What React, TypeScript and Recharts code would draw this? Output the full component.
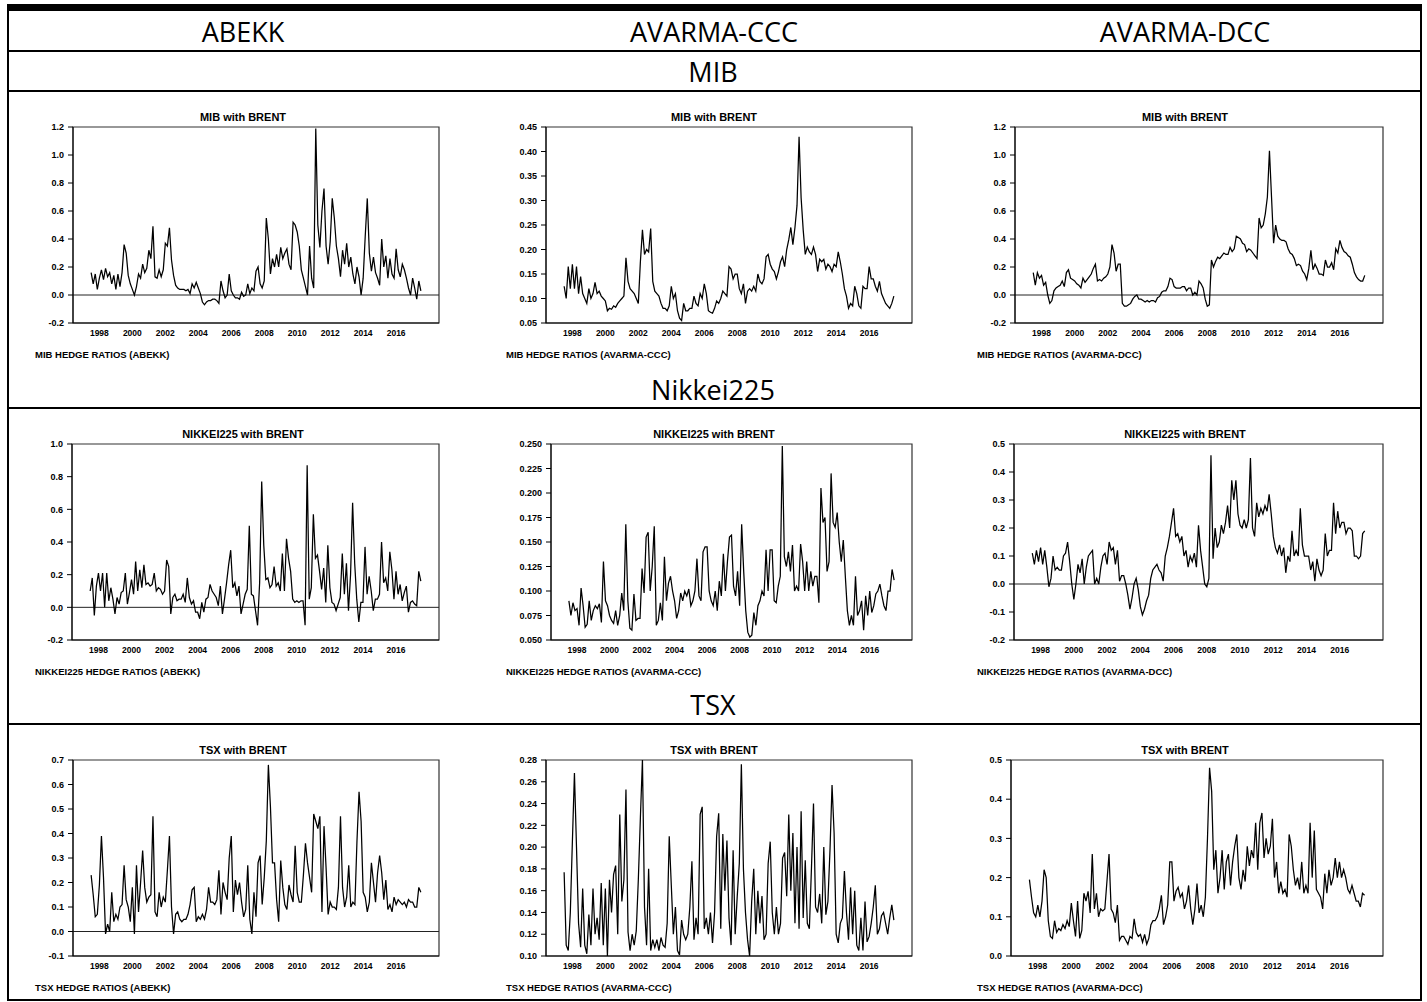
import React from 'react';
import { LineChart, Line, XAxis, YAxis, ReferenceLine, ReferenceArea } from 'recharts';

// readings every 1.5 months, mid-1997 to mid-2017
const START_YEAR = 1997.5;
const STEP = 0.125;

const yearTicks = [1998, 2000, 2002, 2004, 2006, 2008, 2010, 2012, 2014, 2016];
const X_DOMAIN: [number, number] = [1996.4, 2018.6];

const columns = ['ABEKK', 'AVARMA-CCC', 'AVARMA-DCC'];
const markets = ['MIB', 'Nikkei225', 'TSX'];

// MIB with BRENT
const mibAbekk = [
  0.16, 0.08, 0.15, 0.04,
  0.12, 0.18, 0.11, 0.19, 0.13, 0.16, 0.08, 0.14,
  0.04, 0.15, 0.06, 0.16, 0.36, 0.30, 0.14, 0.08,
  0.04, 0.0, 0.06, 0.15, 0.12, 0.22, 0.16, 0.19,
  0.32, 0.26, 0.49, 0.13, 0.12, 0.18, 0.13, 0.18,
  0.37, 0.35, 0.48, 0.25, 0.14, 0.07, 0.05, 0.04,
  0.04, 0.04, 0.03, 0.04, 0.01, 0.08, 0.05, 0.09,
  0.05, 0.01, -0.05, -0.07, -0.05, -0.04, -0.04, -0.03,
  -0.03, -0.04, -0.06, 0.10, 0.03, -0.02, 0.0, 0.15,
  0.03, 0.0, -0.02, -0.02, -0.03, 0.02, -0.01, 0.0,
  0.08, 0.01, 0.05, 0.03, 0.17, 0.20, 0.08, 0.05,
  0.10, 0.55, 0.40, 0.15, 0.26, 0.20, 0.29, 0.20,
  0.34, 0.26, 0.30, 0.33, 0.22, 0.18, 0.52, 0.50,
  0.45, 0.35, 0.18, 0.12, 0.06, 0.0, 0.35, 0.12,
  0.05, 1.19, 0.50, 0.34, 0.60, 0.76, 0.35, 0.22,
  0.38, 0.69, 0.55, 0.35, 0.26, 0.13, 0.32, 0.22,
  0.37, 0.20, 0.27, 0.15, 0.08, 0.20, 0.13, 0.0,
  0.12, 0.42, 0.69, 0.30, 0.17, 0.27, 0.16, 0.12,
  0.07, 0.40, 0.20, 0.28, 0.12, 0.26, 0.15, 0.12,
  0.33, 0.18, 0.13, 0.22, 0.18, 0.12, 0.05, 0.0,
  0.12, 0.05, -0.03, 0.10, 0.03,
];
const mibCcc = [
  0.125, 0.10, 0.165, 0.12,
  0.17, 0.12, 0.165, 0.11, 0.145, 0.11, 0.10, 0.09,
  0.12, 0.10, 0.11, 0.133, 0.11, 0.115, 0.105, 0.10,
  0.095, 0.075, 0.08, 0.078, 0.085, 0.082, 0.09, 0.095,
  0.10, 0.105, 0.183, 0.135, 0.12, 0.115, 0.11, 0.10,
  0.09, 0.175, 0.24, 0.19, 0.20, 0.195, 0.243, 0.135,
  0.115, 0.11, 0.105, 0.09, 0.08, 0.08, 0.075, 0.085,
  0.125, 0.10, 0.11, 0.075, 0.06, 0.055, 0.09, 0.075,
  0.075, 0.08, 0.08, 0.105, 0.09, 0.085, 0.11, 0.10,
  0.13, 0.11, 0.075, 0.072, 0.07, 0.08, 0.095, 0.09,
  0.10, 0.115, 0.11, 0.105, 0.165, 0.16, 0.14, 0.15,
  0.15, 0.12, 0.11, 0.13, 0.09, 0.115, 0.12, 0.115,
  0.125, 0.115, 0.15, 0.135, 0.13, 0.14, 0.185, 0.19,
  0.17, 0.16, 0.155, 0.14, 0.155, 0.175, 0.185, 0.165,
  0.20, 0.22, 0.245, 0.21, 0.245, 0.29, 0.43, 0.305,
  0.24, 0.19, 0.205, 0.195, 0.19, 0.205, 0.19, 0.155,
  0.18, 0.175, 0.18, 0.16, 0.17, 0.165, 0.155, 0.17,
  0.165, 0.195, 0.175, 0.15, 0.12, 0.105, 0.08, 0.09,
  0.085, 0.125, 0.11, 0.085, 0.08, 0.125, 0.12, 0.12,
  0.165, 0.14, 0.14, 0.125, 0.115, 0.135, 0.11, 0.10,
  0.09, 0.085, 0.08, 0.09, 0.105,
];
const mibDcc = [
  0.16, 0.07, 0.16, 0.12,
  0.14, 0.07, 0.09, 0.0, -0.06, -0.04, 0.03, 0.05,
  0.06, 0.07, 0.10, 0.06, 0.16, 0.18, 0.12, 0.11,
  0.10, 0.08, 0.07, 0.05, 0.12, 0.09, 0.11, 0.13,
  0.15, 0.19, 0.22, 0.10, 0.11, 0.10, 0.12, 0.13,
  0.15, 0.20, 0.36, 0.30, 0.17, 0.22, 0.22, -0.06,
  -0.08, -0.08, -0.07, -0.06, -0.03, -0.01, 0.0, -0.03,
  -0.03, -0.04, -0.05, -0.04, -0.05, -0.04, -0.04, -0.05,
  -0.02, -0.01, 0.02, 0.03, 0.03, 0.06, 0.12, 0.11,
  0.06, 0.05, 0.05, 0.05, 0.06, 0.06, 0.03, 0.05,
  0.05, 0.0, 0.02, 0.0, 0.10, 0.08, 0.05, -0.03,
  -0.08, -0.07, 0.25, 0.20, 0.24, 0.27, 0.26, 0.28,
  0.30, 0.29, 0.29, 0.34, 0.31, 0.33, 0.42, 0.41,
  0.40, 0.37, 0.36, 0.31, 0.33, 0.32, 0.30, 0.28,
  0.26, 0.55, 0.48, 0.50, 0.58, 0.70, 1.03, 0.70,
  0.37, 0.50, 0.42, 0.40, 0.39, 0.39, 0.38, 0.33,
  0.30, 0.29, 0.26, 0.21, 0.22, 0.21, 0.17, 0.15,
  0.11, 0.19, 0.32, 0.18, 0.22, 0.19, 0.15, 0.15,
  0.14, 0.25, 0.20, 0.20, 0.23, 0.18, 0.33, 0.30,
  0.39, 0.34, 0.31, 0.30, 0.28, 0.27, 0.22, 0.16,
  0.13, 0.11, 0.10, 0.10, 0.14,
];

// NIKKEI225 with BRENT
const nikAbekk = [
  0.10, 0.18, -0.05, 0.13,
  0.21, 0.10, 0.21, 0.0, 0.21, 0.04, 0.12, 0.05,
  -0.04, 0.06, 0.02, 0.09, 0.10, 0.21, 0.02, 0.09,
  0.17, 0.08, 0.28, 0.10, 0.23, 0.12, 0.26, 0.14,
  0.15, 0.13, 0.14, 0.21, 0.10, 0.12, 0.11, 0.08,
  0.10, 0.29, 0.25, -0.04, 0.06, 0.08, 0.04, 0.05,
  0.05, 0.08, 0.03, 0.18, 0.06, 0.02, 0.04, -0.03,
  -0.03, -0.07, 0.03, -0.03, 0.05, 0.06, 0.14, 0.10,
  0.08, 0.06, 0.01, 0.13, -0.04, 0.05, 0.15, 0.26,
  0.35, 0.12, 0.15, 0.07, 0.13, -0.04, 0.02, 0.08,
  0.11, 0.50, 0.08, 0.07, -0.02, -0.11, 0.15, 0.77,
  0.38, 0.17, 0.18, 0.12, 0.14, 0.25, 0.13, 0.15,
  0.10, 0.33, 0.10, 0.42, 0.30, 0.22, 0.05, 0.03,
  0.04, 0.03, 0.04, 0.04, -0.11, 0.87, 0.05, 0.12,
  0.57, 0.30, 0.32, 0.22, 0.11, 0.24, 0.03, 0.38,
  0.12, 0.03, 0.02, -0.02, 0.02, 0.06, 0.33, 0.08,
  0.27, -0.02, 0.20, 0.64, 0.27, 0.05, -0.09, 0.03,
  0.03, 0.37, 0.08, 0.19, 0.10, -0.02, 0.05, 0.05,
  0.08, 0.40, 0.15, 0.18, 0.10, 0.34, 0.23, 0.05,
  0.22, 0.08, 0.14, 0.04, 0.09, 0.13, -0.03, 0.03,
  0.04, 0.02, 0.01, 0.22, 0.16,
];
const nikCcc = [
  0.09, 0.075, 0.088, 0.08,
  0.082, 0.065, 0.103, 0.085, 0.063, 0.066, 0.09, 0.07,
  0.08, 0.085, 0.082, 0.087, 0.068, 0.13, 0.09, 0.085,
  0.075, 0.07, 0.067, 0.08, 0.065, 0.075, 0.098, 0.08,
  0.168, 0.09, 0.062, 0.06, 0.097, 0.07, 0.072, 0.072,
  0.123, 0.098, 0.155, 0.16, 0.10, 0.125, 0.166, 0.065,
  0.07, 0.088, 0.07, 0.135, 0.09, 0.108, 0.115, 0.10,
  0.09, 0.072, 0.08, 0.098, 0.09, 0.10, 0.095, 0.102,
  0.085, 0.09, 0.10, 0.133, 0.095, 0.09, 0.14, 0.145,
  0.145, 0.10, 0.09, 0.085, 0.10, 0.08, 0.11, 0.095,
  0.138, 0.10, 0.13, 0.155, 0.157, 0.105, 0.095, 0.12,
  0.085, 0.168, 0.12, 0.08, 0.058, 0.053, 0.055, 0.078,
  0.065, 0.085, 0.09, 0.10, 0.095, 0.142, 0.10, 0.142,
  0.142, 0.09, 0.088, 0.105, 0.115, 0.248, 0.135, 0.125,
  0.14, 0.12, 0.147, 0.10, 0.105, 0.10, 0.148, 0.13,
  0.10, 0.13, 0.10, 0.12, 0.105, 0.115, 0.115, 0.088,
  0.205, 0.17, 0.175, 0.12, 0.13, 0.22, 0.17, 0.165,
  0.18, 0.15, 0.13, 0.152, 0.115, 0.08, 0.065, 0.075,
  0.065, 0.115, 0.075, 0.08, 0.09, 0.06, 0.095, 0.075,
  0.10, 0.078, 0.085, 0.097, 0.10, 0.107, 0.095, 0.085,
  0.08, 0.10, 0.10, 0.122, 0.111,
];
const nikDcc = [
  0.11, 0.07, 0.12, 0.08,
  0.13, 0.07, 0.12, 0.06, -0.01, 0.02, 0.10, 0.05,
  0.06, 0.05, 0.05, 0.10, 0.11, 0.15, 0.08, 0.0,
  -0.055, 0.0, 0.07, 0.04, 0.09, 0.0, 0.06, 0.10,
  0.11, 0.12, 0.0, 0.02, 0.0, 0.06, 0.10, 0.11,
  0.07, 0.15, 0.12, 0.13, 0.07, 0.12, 0.01, 0.03,
  0.03, 0.0, -0.04, -0.09, -0.05, 0.0, 0.02, -0.02,
  -0.08, -0.11, -0.09, -0.06, -0.04, 0.02, 0.05, 0.06,
  0.07, 0.05, 0.04, 0.01, 0.10, 0.13, 0.17, 0.22,
  0.27, 0.17, 0.18, 0.15, 0.17, 0.10, 0.12, 0.06,
  0.10, 0.08, 0.11, 0.06, 0.21, 0.12, 0.06, 0.0,
  -0.01, 0.02, 0.46, 0.09, 0.20, 0.13, 0.15, 0.21,
  0.18, 0.22, 0.28, 0.20, 0.37, 0.30, 0.37, 0.25,
  0.21, 0.20, 0.23, 0.20, 0.23, 0.45, 0.20, 0.17,
  0.29, 0.24, 0.27, 0.25, 0.28, 0.26, 0.32, 0.25,
  0.17, 0.13, 0.11, 0.14, 0.10, 0.13, 0.04, 0.10,
  0.08, 0.19, 0.10, 0.12, 0.10, 0.27, 0.14, 0.10,
  0.10, 0.10, 0.05, 0.08, 0.01, 0.09, 0.05, 0.03,
  0.05, 0.18, 0.10, 0.12, 0.12, 0.29, 0.18, 0.26,
  0.20, 0.22, 0.22, 0.18, 0.20, 0.20, 0.19, 0.10,
  0.10, 0.09, 0.10, 0.18, 0.19,
];

// TSX with BRENT
const tsxAbekk = [
  0.23, 0.15, 0.06, 0.07,
  0.19, 0.39, 0.22, -0.01, 0.03, 0.0, 0.16, 0.04,
  0.07, 0.05, 0.10, 0.11, 0.27, 0.13, 0.10, 0.04,
  0.18, -0.01, 0.27, 0.08, 0.20, 0.33, 0.18, 0.12,
  0.14, 0.15, 0.47, 0.08, 0.06, 0.16, 0.10, 0.14,
  0.12, 0.25, 0.39, 0.10, -0.01, 0.07, 0.08, 0.05,
  0.04, 0.05, 0.05, 0.07, 0.11, 0.17, 0.18, 0.04,
  0.06, 0.05, 0.07, 0.05, 0.09, 0.18, 0.12, 0.12,
  0.11, 0.13, 0.25, 0.07, 0.20, 0.16, 0.13, 0.30,
  0.39, 0.08, 0.21, 0.15, 0.20, 0.12, 0.06, 0.09,
  0.27, 0.05, -0.01, 0.16, 0.06, 0.28, 0.31, 0.11,
  0.22, 0.37, 0.68, 0.51, 0.28, 0.28, 0.13, 0.04,
  0.29, 0.18, 0.11, 0.09, 0.19, 0.15, 0.12, 0.35,
  0.16, 0.12, 0.12, 0.23, 0.36, 0.28, 0.22, 0.16,
  0.48, 0.45, 0.42, 0.47, 0.08, 0.43, 0.26, 0.07,
  0.12, 0.10, 0.10, 0.09, 0.18, 0.47, 0.18, 0.10,
  0.14, 0.27, 0.10, 0.12, 0.11, 0.37, 0.57, 0.45,
  0.16, 0.14, 0.08, 0.12, 0.28, 0.20, 0.12, 0.24,
  0.31, 0.24, 0.13, 0.21, 0.09, 0.11, 0.08, 0.14,
  0.11, 0.13, 0.12, 0.11, 0.12, 0.10, 0.13, 0.12,
  0.12, 0.10, 0.10, 0.18, 0.16,
];
const tsxCcc = [
  0.177, 0.11, 0.105, 0.14,
  0.205, 0.268, 0.20, 0.13, 0.108, 0.162, 0.11, 0.102,
  0.138, 0.11, 0.162, 0.12, 0.135, 0.115, 0.167, 0.11,
  0.162, 0.10, 0.17, 0.14, 0.175, 0.183, 0.12, 0.23,
  0.15, 0.17, 0.253, 0.122, 0.105, 0.12, 0.11, 0.123,
  0.17, 0.227, 0.28, 0.145, 0.11, 0.18, 0.105, 0.115,
  0.108, 0.115, 0.105, 0.117, 0.11, 0.108, 0.13, 0.21,
  0.165, 0.12, 0.145, 0.105, 0.101, 0.133, 0.12, 0.115,
  0.12, 0.145, 0.187, 0.115, 0.135, 0.12, 0.23, 0.237,
  0.125, 0.135, 0.12, 0.14, 0.112, 0.14, 0.21, 0.231,
  0.125, 0.212, 0.16, 0.206, 0.135, 0.11, 0.197, 0.12,
  0.155, 0.185, 0.276, 0.18, 0.14, 0.115, 0.10, 0.15,
  0.18, 0.12, 0.16, 0.13, 0.155, 0.115, 0.12, 0.185,
  0.205, 0.14, 0.12, 0.145, 0.12, 0.13, 0.19, 0.195,
  0.155, 0.23, 0.16, 0.213, 0.13, 0.20, 0.125, 0.233,
  0.135, 0.188, 0.13, 0.125, 0.18, 0.24, 0.145, 0.14,
  0.157, 0.13, 0.20, 0.138, 0.15, 0.197, 0.257, 0.213,
  0.12, 0.112, 0.13, 0.135, 0.178, 0.14, 0.115, 0.163,
  0.12, 0.16, 0.11, 0.105, 0.135, 0.105, 0.15, 0.113,
  0.118, 0.13, 0.145, 0.165, 0.12, 0.125, 0.137, 0.14,
  0.13, 0.12, 0.135, 0.147, 0.133,
];
const tsxDcc = [
  0.195, 0.15, 0.11, 0.10,
  0.13, 0.10, 0.14, 0.22, 0.20, 0.09, 0.05, 0.045,
  0.09, 0.06, 0.07, 0.065, 0.08, 0.07, 0.09, 0.075,
  0.135, 0.09, 0.05, 0.14, 0.045, 0.065, 0.16, 0.14,
  0.165, 0.11, 0.26, 0.12, 0.16, 0.10, 0.12, 0.115,
  0.12, 0.19, 0.26, 0.12, 0.11, 0.085, 0.13, 0.04,
  0.05, 0.05, 0.04, 0.03, 0.05, 0.045, 0.095, 0.06,
  0.05, 0.055, 0.035, 0.055, 0.03, 0.045, 0.08, 0.09,
  0.09, 0.10, 0.12, 0.155, 0.08, 0.10, 0.13, 0.24,
  0.24, 0.14, 0.165, 0.175, 0.15, 0.16, 0.12, 0.14,
  0.18, 0.12, 0.08, 0.12, 0.185, 0.11, 0.13, 0.10,
  0.15, 0.30, 0.48, 0.42, 0.22, 0.27, 0.16, 0.20,
  0.27, 0.17, 0.24, 0.26, 0.18, 0.24, 0.28, 0.31,
  0.20, 0.17, 0.22, 0.19, 0.28, 0.23, 0.27, 0.25,
  0.34, 0.22, 0.34, 0.365, 0.25, 0.30, 0.26, 0.28,
  0.35, 0.20, 0.24, 0.16, 0.19, 0.16, 0.17, 0.15,
  0.31, 0.28, 0.22, 0.18, 0.20, 0.17, 0.24, 0.16,
  0.18, 0.16, 0.34, 0.20, 0.32, 0.17, 0.16, 0.15,
  0.12, 0.21, 0.16, 0.22, 0.18, 0.20, 0.25, 0.20,
  0.24, 0.20, 0.22, 0.20, 0.17, 0.16, 0.18, 0.16,
  0.14, 0.14, 0.125, 0.16, 0.155,
];

// y tick labels
const ticksMib1 = [-0.2, 0, 0.2, 0.4, 0.6, 0.8, 1.0, 1.2];
const ticksMib2 = [0.05, 0.1, 0.15, 0.2, 0.25, 0.3, 0.35, 0.4, 0.45];
const ticksNik1 = [-0.2, 0, 0.2, 0.4, 0.6, 0.8, 1.0];
const ticksNik2 = [0.05, 0.075, 0.1, 0.125, 0.15, 0.175, 0.2, 0.225, 0.25];
const ticksNik3 = [-0.2, -0.1, 0, 0.1, 0.2, 0.3, 0.4, 0.5];
const ticksTsx1 = [-0.1, 0, 0.1, 0.2, 0.3, 0.4, 0.5, 0.6, 0.7];
const ticksTsx2 = [0.1, 0.12, 0.14, 0.16, 0.18, 0.2, 0.22, 0.24, 0.26, 0.28];
const ticksTsx3 = [0, 0.1, 0.2, 0.3, 0.4, 0.5];

const PLOT_H = 196;
const YW = 50;
const FONT = '"Liberation Sans", Arial, sans-serif';
const HEAD_FONT = '"Open Sans", sans-serif';
const COL_CENTER = [243, 714, 1185];
const COL_RIGHT = [439, 912, 1383];

interface PanelProps {
  values: number[];
  ticks: number[];
  decimals: number;
  col: number;
  left: number;
  top: number;
  title: string;
  caption: string;
}

const Panel: React.FC<PanelProps> = ({ values, ticks, decimals, col, left, top, title, caption }) => {
  const data = values.map((v, i) => ({ t: START_YEAR + i * STEP, v }));
  const yDomain: [number, number] = [ticks[0], ticks[ticks.length - 1]];
  const plotW = COL_RIGHT[col] - left;
  return (
    <>
      <div
        style={{
          position: 'absolute',
          left: COL_CENTER[col] - 150,
          width: 300,
          top: top - 16,
          textAlign: 'center',
          fontFamily: FONT,
          fontWeight: 'bold',
          fontSize: 11,
          lineHeight: '13px',
        }}
      >
        {title}
      </div>
      <div style={{ position: 'absolute', left: left - YW, top: top - 5 }}>
        <LineChart
          width={YW + plotW + 5}
          height={5 + PLOT_H + 20}
          data={data}
          margin={{ top: 5, right: 5, bottom: 0, left: 0 }}
        >
          <XAxis
            type="number"
            dataKey="t"
            domain={X_DOMAIN}
            ticks={yearTicks}
            interval={0}
            allowDataOverflow
            height={20}
            tickLine={false}
            tickSize={4}
            tickMargin={3}
            axisLine={{ stroke: '#000' }}
            tick={{ fontSize: 8.5, fontWeight: 'bold', fill: '#000', fontFamily: FONT }}
          />
          <YAxis
            type="number"
            domain={yDomain}
            ticks={ticks}
            interval={0}
            allowDataOverflow
            width={YW}
            tickSize={5}
            tickMargin={4}
            axisLine={{ stroke: '#000' }}
            tickLine={{ stroke: '#000' }}
            tickFormatter={(v: number) => v.toFixed(decimals)}
            tick={{ fontSize: 9, fontWeight: 'bold', fill: '#000', fontFamily: FONT }}
          />
          <ReferenceArea
            x1={X_DOMAIN[0]}
            x2={X_DOMAIN[1]}
            y1={yDomain[0]}
            y2={yDomain[1]}
            fill="none"
            stroke="#333"
            strokeWidth={1.2}
          />
          {yDomain[0] < 0 && <ReferenceLine y={0} stroke="#222" strokeWidth={1} />}
          <Line
            type="linear"
            dataKey="v"
            stroke="#000"
            strokeWidth={1.25}
            dot={false}
            isAnimationActive={false}
          />
        </LineChart>
      </div>
      <div
        style={{
          position: 'absolute',
          left: COL_CENTER[col] - 208,
          top: top + 222,
          fontFamily: FONT,
          fontWeight: 'bold',
          fontSize: 9.5,
          lineHeight: '12px',
          whiteSpace: 'nowrap',
        }}
      >
        {caption}
      </div>
    </>
  );
};

const hLine = (y: number, h: number) => (
  <div key={`l${y}`} style={{ position: 'absolute', left: 7, width: 1415, top: y, height: h, background: '#000' }} />
);

const headText = (text: string, cx: number, cy: number) => (
  <div
    key={text}
    style={{
      position: 'absolute',
      left: cx - 200,
      width: 400,
      top: cy - 14,
      textAlign: 'center',
      fontFamily: HEAD_FONT,
      fontSize: 27,
      lineHeight: '27px',
      color: '#000',
    }}
  >
    {text}
  </div>
);

const App: React.FC = () => {
  return (
    <div
      style={{
        position: 'absolute',
        left: 0,
        top: 0,
        width: 1427,
        height: 1002,
        background: '#fff',
        overflow: 'hidden',
      }}
    >
      {hLine(4, 7)}
      {hLine(50, 2)}
      {hLine(90, 2)}
      {hLine(407, 2)}
      {hLine(723, 2)}
      {hLine(999, 2)}
      <div style={{ position: 'absolute', left: 7, top: 4, width: 2, height: 997, background: '#000' }} />
      <div style={{ position: 'absolute', left: 1420, top: 4, width: 2, height: 997, background: '#000' }} />

      {columns.map((c, i) => headText(c, COL_CENTER[i], 32))}
      {headText(markets[0], 713, 72)}
      {headText(markets[1], 713, 390)}
      {headText(markets[2], 713, 705)}

      <Panel values={mibAbekk} ticks={ticksMib1} decimals={1} col={0} left={73} top={127}
        title="MIB with BRENT" caption="MIB HEDGE RATIOS (ABEKK)" />
      <Panel values={mibCcc} ticks={ticksMib2} decimals={2} col={1} left={546} top={127}
        title="MIB with BRENT" caption="MIB HEDGE RATIOS (AVARMA-CCC)" />
      <Panel values={mibDcc} ticks={ticksMib1} decimals={1} col={2} left={1015} top={127}
        title="MIB with BRENT" caption="MIB HEDGE RATIOS (AVARMA-DCC)" />

      <Panel values={nikAbekk} ticks={ticksNik1} decimals={1} col={0} left={72} top={444}
        title="NIKKEI225 with BRENT" caption="NIKKEI225 HEDGE RATIOS (ABEKK)" />
      <Panel values={nikCcc} ticks={ticksNik2} decimals={3} col={1} left={551} top={444}
        title="NIKKEI225 with BRENT" caption="NIKKEI225 HEDGE RATIOS (AVARMA-CCC)" />
      <Panel values={nikDcc} ticks={ticksNik3} decimals={1} col={2} left={1014} top={444}
        title="NIKKEI225 with BRENT" caption="NIKKEI225 HEDGE RATIOS (AVARMA-DCC)" />

      <Panel values={tsxAbekk} ticks={ticksTsx1} decimals={1} col={0} left={73} top={760}
        title="TSX with BRENT" caption="TSX HEDGE RATIOS (ABEKK)" />
      <Panel values={tsxCcc} ticks={ticksTsx2} decimals={2} col={1} left={546} top={760}
        title="TSX with BRENT" caption="TSX HEDGE RATIOS (AVARMA-CCC)" />
      <Panel values={tsxDcc} ticks={ticksTsx3} decimals={1} col={2} left={1011} top={760}
        title="TSX with BRENT" caption="TSX HEDGE RATIOS (AVARMA-DCC)" />
    </div>
  );
};

export default App;
